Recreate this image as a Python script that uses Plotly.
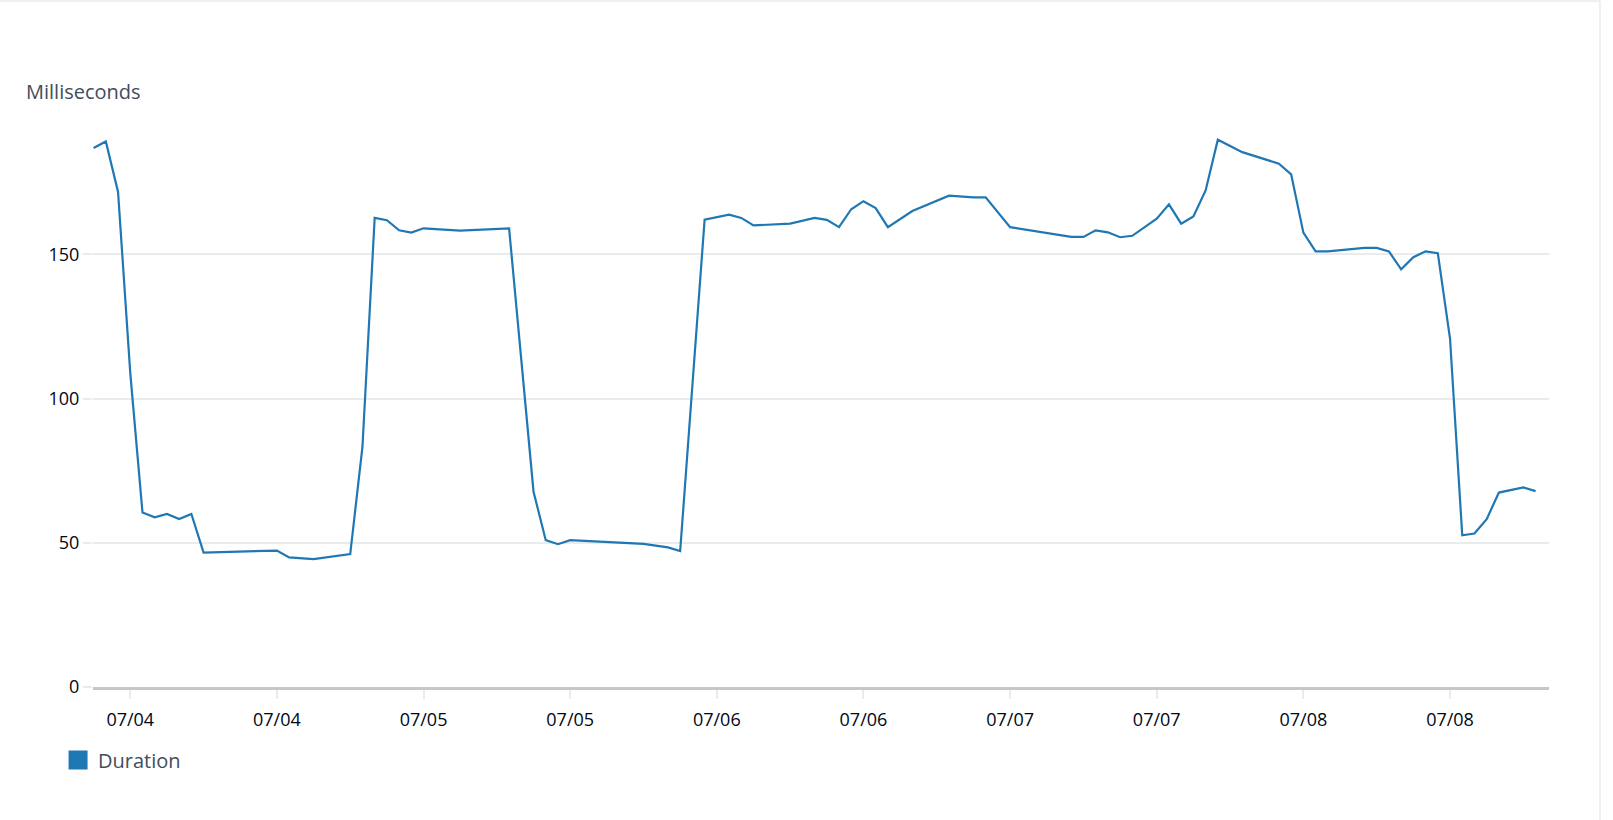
import pandas as pd
import plotly.graph_objects as go

# Duration samples (timestamp, milliseconds)
times = [
    "2024-07-03 21:00", "2024-07-03 22:00", "2024-07-03 23:00", "2024-07-04 00:00",
    "2024-07-04 01:00", "2024-07-04 02:00", "2024-07-04 03:00", "2024-07-04 04:00",
    "2024-07-04 05:00", "2024-07-04 06:00", "2024-07-04 12:00", "2024-07-04 13:00",
    "2024-07-04 15:00", "2024-07-04 18:00", "2024-07-04 19:00", "2024-07-04 20:00",
    "2024-07-04 21:00", "2024-07-04 22:00", "2024-07-04 23:00", "2024-07-05 00:00",
    "2024-07-05 03:00", "2024-07-05 07:00", "2024-07-05 09:00", "2024-07-05 10:00",
    "2024-07-05 11:00", "2024-07-05 12:00", "2024-07-05 18:00", "2024-07-05 20:00",
    "2024-07-05 21:00", "2024-07-05 23:00", "2024-07-06 01:00", "2024-07-06 02:00",
    "2024-07-06 03:00", "2024-07-06 06:00", "2024-07-06 08:00", "2024-07-06 09:00",
    "2024-07-06 10:00", "2024-07-06 11:00", "2024-07-06 12:00", "2024-07-06 13:00",
    "2024-07-06 14:00", "2024-07-06 16:00", "2024-07-06 19:00", "2024-07-06 21:00",
    "2024-07-06 22:00", "2024-07-07 00:00", "2024-07-07 05:00", "2024-07-07 06:00",
    "2024-07-07 07:00", "2024-07-07 08:00", "2024-07-07 09:00", "2024-07-07 10:00",
    "2024-07-07 12:00", "2024-07-07 13:00", "2024-07-07 14:00", "2024-07-07 15:00",
    "2024-07-07 16:00", "2024-07-07 17:00", "2024-07-07 19:00", "2024-07-07 22:00",
    "2024-07-07 23:00", "2024-07-08 00:00", "2024-07-08 01:00", "2024-07-08 02:00",
    "2024-07-08 05:00", "2024-07-08 06:00", "2024-07-08 07:00", "2024-07-08 08:00",
    "2024-07-08 09:00", "2024-07-08 10:00", "2024-07-08 11:00", "2024-07-08 12:00",
    "2024-07-08 13:00", "2024-07-08 14:00", "2024-07-08 15:00", "2024-07-08 16:00",
    "2024-07-08 18:00", "2024-07-08 19:00",
]
duration = [
    186.8, 189.1, 171.6, 108.8,
    60.5, 58.8, 60.0, 58.2,
    60.0, 46.6, 47.3, 44.9,
    44.3, 46.1, 83.2, 162.6,
    161.8, 158.3, 157.5, 159.0,
    158.2, 159.0, 67.7, 50.9,
    49.5, 50.9, 49.6, 48.4,
    47.1, 162.0, 163.7, 162.6,
    160.0, 160.6, 162.6, 161.9,
    159.4, 165.6, 168.4, 166.0,
    159.4, 165.0, 170.3, 169.7,
    169.7, 159.4, 156.0, 156.0,
    158.3, 157.6, 155.9, 156.4,
    162.3, 167.3, 160.6, 163.1,
    172.1, 189.7, 185.4, 181.4,
    177.7, 157.5, 151.0, 151.0,
    152.2, 152.2, 151.0, 144.8,
    149.0, 151.0, 150.4, 120.8,
    52.6, 53.2, 58.2, 67.4,
    69.2, 67.9,
]
y_ticks = [0, 50, 100, 150]

df = pd.DataFrame({"time": pd.to_datetime(times), "duration": duration})

line_color = "#1f77b4"
grid_color = "#e9ebed"
font_family = "Open Sans, Noto Sans, sans-serif"

W, H = 1613, 820
L, R, T, B = 93, 64, 110, 133
plot_w, plot_h = W - L - R, H - T - B

fig = go.Figure()
fig.add_trace(go.Scatter(
    x=df["time"], y=df["duration"],
    mode="lines",
    line=dict(color=line_color, width=2.2),
    showlegend=False,
))
# legend entry drawn as a square swatch
fig.add_trace(go.Scatter(
    x=[None], y=[None],
    mode="markers",
    name="Duration",
    marker=dict(symbol="square", size=16, color=line_color,
                line=dict(color=line_color, width=3)),
))

border_x = (1600 - L) / plot_w
border_y = 1 + (T - 1) / plot_h

fig.update_layout(
    width=W, height=H,
    paper_bgcolor="white", plot_bgcolor="white",
    margin=dict(l=L, r=R, t=T, b=B),
    font=dict(family=font_family, size=17, color="#000716"),
    title=dict(
        text="Milliseconds",
        xref="container", yref="container",
        x=26 / W, xanchor="left",
        y=1 - 92 / H, yanchor="middle",
        font=dict(size=20, color="#414d5c"),
    ),
    legend=dict(
        orientation="h",
        x=-0.024, xanchor="left",
        y=-(760 - (H - B)) / plot_h, yanchor="middle",
        font=dict(size=20, color="#414d5c"),
        itemsizing="trace",
    ),
    shapes=[
        dict(type="line", xref="paper", yref="paper",
             x0=-L / plot_w, x1=border_x, y0=border_y, y1=border_y,
             line=dict(color="#eaeded", width=1.5)),
        dict(type="line", xref="paper", yref="paper",
             x0=border_x, x1=border_x, y0=-B / plot_h, y1=border_y,
             line=dict(color="#eaeded", width=1.5)),
    ],
)

fig.update_xaxes(
    type="date",
    range=["2024-07-03 20:57", "2024-07-08 20:06"],
    tick0="2024-07-04 00:00", dtick=12 * 3600 * 1000,
    tickformat="%m/%d",
    showgrid=False, zeroline=False,
    showline=True, linecolor="#c6c6cd", linewidth=3,
    ticks="outside", ticklen=9, tickcolor=grid_color, tickwidth=1.5,
    ticklabelstandoff=5,
    tickfont=dict(size=18, color="#000716"),
)
fig.update_yaxes(
    range=[0, 200],
    tickvals=y_ticks,
    showgrid=True, gridcolor=grid_color, gridwidth=1.5,
    zeroline=False, showline=False,
    ticks="outside", ticklen=9, tickcolor=grid_color, tickwidth=1.5,
    tickfont=dict(size=18, color="#000716"),
)

# drop the default page margin so the figure sits at the window origin
fig.write_html("out.html", config={"displayModeBar": False},
               post_script="document.body.style.margin='0';")
